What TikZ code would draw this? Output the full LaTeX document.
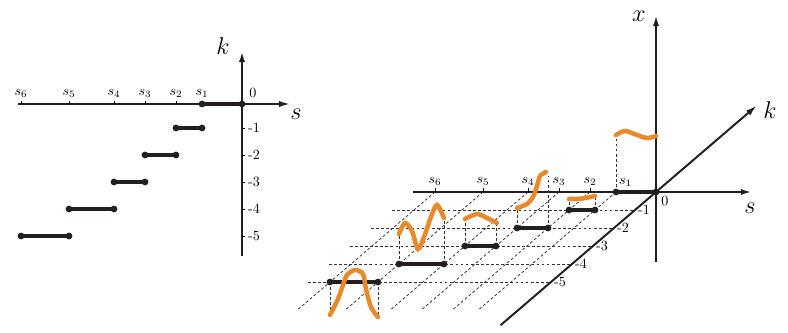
\documentclass[tikz,border=0pt]{standalone}
\usepackage{amsmath}
\usepackage{xcolor}
\usepackage{tikz}
\usetikzlibrary{
	arrows.meta,
	calc
}
\definecolor{CurveOrange}{RGB}{232,138,42}
\definecolor{InkBlack}{RGB}{35,31,32}

\begin{document}
\begin{tikzpicture}[x=0.025cm, y=-0.025cm,
		axis/.style={line width=1.6pt, InkBlack, -{Latex[length=8pt,width=4.5pt]}},
		gridline/.style={black!80, line width=0.55pt, dash pattern=on 2pt off 1.6pt},
		seg/.style={line width=2.8pt, InkBlack},
		wave/.style={line width=3.2pt, CurveOrange, line cap=round},
		lab/.style={font=\normalsize, inner sep=2pt},
		big/.style={font=\LARGE}]
		\useasboundingbox (0,0) rectangle (788,333);
		% 左图: 阶梯
		\begin{scope}[shift={(242,104)}]
			\draw[axis, line width=1.2pt] (-224,0) -- (48,0);
			\draw[axis] (0,152) -- (0,-53);
			\node[big] (kL) at (-19,-58) {$k$};
			\node[big] (sL) at (54,10) {$s$};
			\node[lab] (zL) at (11,-11) {0};
			\foreach \s in {-66,-97,-128,-173,-221}
				\draw (\s,0) -- (\s,-3);
			\foreach \s/\i in {-40/1,-66/2,-97/3,-128/4,-173/5,-221/6}
				\node[lab, above] (sL\i) at (\s,-3) {$s_\i$};
			\foreach \n in {1,...,5}
				\draw (0,{27*\n-3}) -- (3,{27*\n-3}) node[lab, right] (kL\n) {-\n};
			\draw[seg] (-40,0) -- (0,0);
			\fill[InkBlack] (-40,0) circle (2.4pt) (0,0) circle (2.4pt);
			\foreach \a/\b/\n in {-66/-40/1,-97/-66/2,-128/-97/3,-173/-128/4,-221/-173/5} {
				\draw[seg] (\a,{27*\n-3}) -- (\b,{27*\n-3});
				\fill[InkBlack] (\a,{27*\n-3}) circle (2.4pt) (\b,{27*\n-3}) circle (2.4pt);
			}
		\end{scope}
		% 右图: 三维
		\begin{scope}[shift={(656,192)}, x={(0.025cm,0)}, y={(0,0.025cm)}, z={(0.525cm,0.45cm)}]
			% 网格
			\foreach \s in {-40,-66,-97,-128,-173,-221}
				\draw[gridline] (\s,0,0) -- (\s,0,-6.5);
			\foreach \n in {1,...,5} {
				\draw[gridline] (-243,0,-\n) -- (0,0,-\n);
				\node[lab, right] (kR\n) at (0,0,-\n) {-\n};
			}
			% 坐标轴
			\draw[axis] (-243,0,0) -- (96,0,0);
			\draw[axis] (0,-70,0) -- (0,177,0);
			\draw[axis, line width=1.4pt] (0,0,-7.4) -- (0,0,4.8);
			\node[big] (xR) at (-17,176,0) {$x$};
			\node[big] (sR) at (94,-16,0) {$s$};
			\node[big] (kR) at (114,82,0) {$k$};
			\node[lab] (zR) at (9,-9,0) {0};
			\foreach \s/\i in {-66/2,-97/3,-128/4,-173/5,-221/6} {
				\draw (\s,0,0) -- (\s,3.5,0);
				\node[lab, above] (sR\i) at (\s,3.5,0) {$s_\i$};
			}
			\node[lab, above right] (sR1) at (-40,2,0) {$s_1$};
			% k = 0
			\draw[gridline] (-40,0,0) -- (-40,57,0);
			\draw[seg] (-40,0,0) -- (0,0,0);
			\fill[InkBlack] (-40,0,0) circle (2.4pt) (0,0,0) circle (2.4pt);
			\draw[wave] plot[smooth] coordinates {(-40,57,0) (-31,61,0) (-19,57,0) (-9,54,0) (0,56,0)};
			% k = -1
			\begin{scope}[shift={(0,0,-1)}]
				\draw[gridline] (-66,0) -- (-66,11) (-40,0) -- (-40,14);
				\draw[seg] (-66,0) -- (-40,0);
				\fill[InkBlack] (-66,0) circle (2.4pt) (-40,0) circle (2.4pt);
				\draw[wave] plot[smooth] coordinates {(-66,11) (-53,11.5) (-40,14)};
			\end{scope}
			% k = -2
			\begin{scope}[shift={(0,0,-2)}]
				\draw[gridline] (-97,0) -- (-97,20) (-66,0) -- (-66,52);
				\draw[seg] (-97,0) -- (-66,0);
				\fill[InkBlack] (-97,0) circle (2.4pt) (-66,0) circle (2.4pt);
				\draw[wave] plot[smooth] coordinates {(-97,20) (-87,24) (-81,31) (-77,42) (-74,52) (-68,56)};
			\end{scope}
			% k = -3
			\begin{scope}[shift={(0,0,-3)}]
				\draw[gridline] (-128,0) -- (-128,27) (-97,0) -- (-97,23);
				\draw[seg] (-128,0) -- (-97,0);
				\fill[InkBlack] (-128,0) circle (2.4pt) (-97,0) circle (2.4pt);
				\draw[wave] plot[smooth] coordinates {(-128,27) (-116,32) (-106,28) (-96,23)};
			\end{scope}
			% k = -4
			\begin{scope}[shift={(0,0,-4)}]
				\draw[gridline] (-173,0) -- (-173,30) (-128,0) -- (-128,46);
				\draw[seg] (-173,0) -- (-128,0);
				\fill[InkBlack] (-173,0) circle (2.4pt) (-128,0) circle (2.4pt);
				\draw[wave] plot[smooth] coordinates {(-173,30) (-167,41) (-160,33) (-154,15) (-148,27) (-141,47) (-135,59) (-128,46)};
			\end{scope}
			% k = -5
			\begin{scope}[shift={(0,0,-5)}]
				\draw[gridline] (-221,0) -- (-221,-33) (-173,0) -- (-173,-35);
				\draw[seg] (-221,0) -- (-173,0);
				\fill[InkBlack] (-221,0) circle (2.4pt) (-173,0) circle (2.4pt);
				\draw[wave] plot[smooth] coordinates {(-221,-33) (-213,-17) (-208,-3) (-204,7) (-196,12) (-188,8) (-185,-7) (-180,-25) (-173,-35)};
			\end{scope}
		\end{scope}
	\end{tikzpicture}
\end{document}
